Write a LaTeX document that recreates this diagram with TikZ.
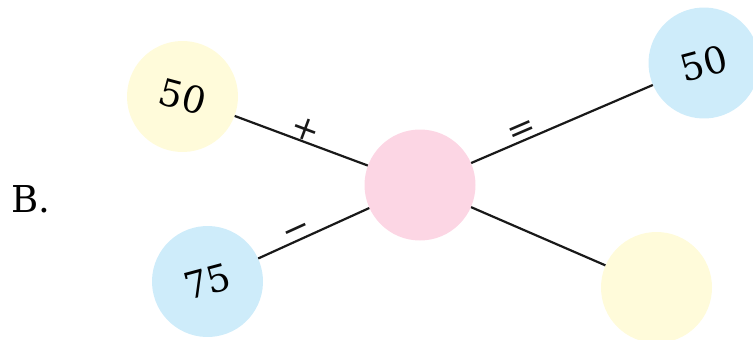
\documentclass[tikz,border=0pt]{standalone}
\usepackage{fontspec}
\setmainfont{DejaVu Serif}
\definecolor{ballyellow}{RGB}{255,251,218}
\definecolor{ballblue}{RGB}{206,236,250}
\definecolor{ballpink}{RGB}{252,214,228}
\begin{document}
\begin{tikzpicture}[
    x=1pt, y=-1pt,
    ball/.style={circle, minimum size=111pt, inner sep=0pt,
                 font=\fontsize{37}{40}\selectfont},
    op/.style={sloped, font=\fontsize{34}{36}\selectfont, inner sep=0pt},
    ln/.style={line width=2.2pt, black!90}
]
  \useasboundingbox (0,0) rectangle (753,340);
  \clip (0,0) rectangle (753,340);

  % ================= 标号 =================
  \node[font=\fontsize{37}{40}\selectfont] (label) at (31,199) {B.};

  % ================= 圆 =================
  \node[ball, fill=ballyellow, rotate=-15] (left50)  at (182.5,96.5)  {50};
  \node[ball, fill=ballblue,   rotate=15]  (left75)  at (207.5,281.5) {75};
  \node[ball, fill=ballpink]               (hub)     at (420,185)     {};
  \node[ball, fill=ballblue,   rotate=15]  (right50) at (704,63)      {50};
  \node[ball, fill=ballyellow]             (blank)   at (656.5,287.5) {};

  % ================= 连线 =================
  \draw[ln] (left50) -- node[op, above, pos=0.5] {+} (hub);
  \draw[ln] (left75) -- node[op, above, pos=0.38] {−} (hub);
  \draw[ln] (hub) -- node[op, above, pos=0.3] {=} (right50);
  \draw[ln] (hub) -- (blank);

\end{tikzpicture}
\end{document}
